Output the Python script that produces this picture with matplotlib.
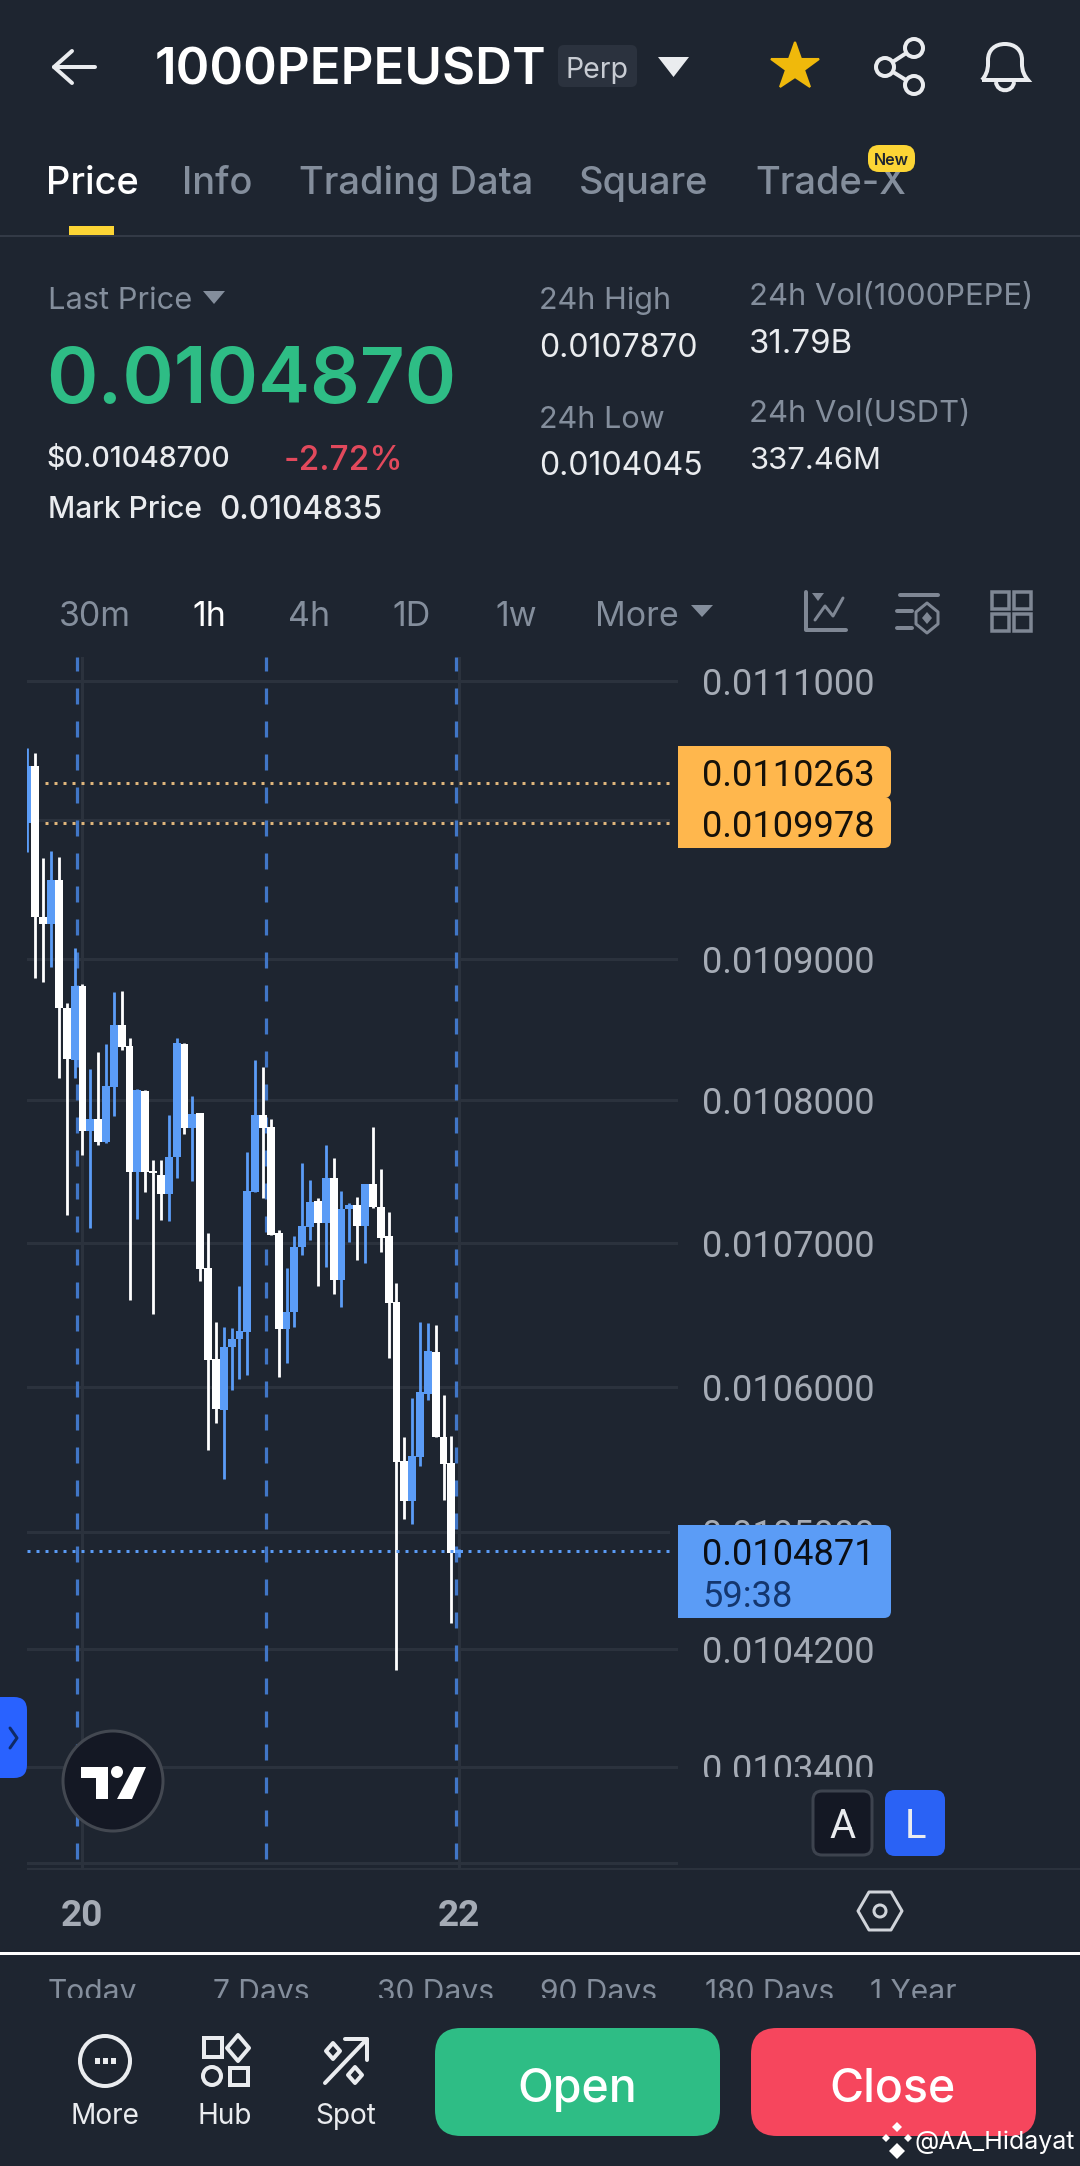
import matplotlib
matplotlib.use('Agg')
import matplotlib.pyplot as plt
from matplotlib.patches import Circle, FancyBboxPatch, PathPatch, Polygon, Rectangle
from matplotlib.path import Path
from matplotlib.ticker import NullFormatter, NullLocator

plt.rcParams['font.family'] = ['Inter', 'DejaVu Sans']

# candles, oldest first
opens = [0.0109976, 0.0110387, 0.0109303, 0.0109253, 0.0109568, 0.0108656, 0.0108287, 0.0108811,
         0.0107786, 0.0107870, 0.0107709, 0.0108096, 0.0108535, 0.0108386, 0.0107498, 0.0108067,
         0.0107505, 0.0107477, 0.0107343, 0.0107603, 0.0108400, 0.0107807, 0.0107912, 0.0106825,
         0.0106192, 0.0105839, 0.0106276, 0.0106331, 0.0106380, 0.0107358, 0.0107898, 0.0107814,
         0.0107070, 0.0106401, 0.0106519, 0.0106971, 0.0107112, 0.0107294, 0.0107140, 0.0107456,
         0.0106742, 0.0107238, 0.0107266, 0.0107119, 0.0107414, 0.0107252, 0.0107049, 0.0106589,
         0.0105488, 0.0105212, 0.0105515, 0.0105949, 0.0106241, 0.0105653, 0.0105474, 0.0104855]
closes = [0.0110387, 0.0109303, 0.0109253, 0.0109568, 0.0108656, 0.0108294, 0.0108811, 0.0107786,
          0.0107870, 0.0107709, 0.0108103, 0.0108535, 0.0108379, 0.0107498, 0.0108074, 0.0107498,
          0.0107491, 0.0107343, 0.0107603, 0.0108408, 0.0107807, 0.0107905, 0.0106818, 0.0106185,
          0.0105846, 0.0106276, 0.0106331, 0.0106387, 0.0107365, 0.0107898, 0.0107807, 0.0107056,
          0.0106401, 0.0106519, 0.0106971, 0.0107119, 0.0107287, 0.0107140, 0.0107456, 0.0106742,
          0.0107238, 0.0107266, 0.0107119, 0.0107414, 0.0107252, 0.0107034, 0.0106582, 0.0105481,
          0.0105212, 0.0105522, 0.0105963, 0.0106248, 0.0105653, 0.0105467, 0.0104855, 0.0104876]
highs = [0.0110517, 0.0110481, 0.0109725, 0.0109775, 0.0109732, 0.0108691, 0.0109082, 0.0108826,
         0.0108223, 0.0108344, 0.0108400, 0.0108769, 0.0108776, 0.0108443, 0.0108082, 0.0108074,
         0.0107582, 0.0107582, 0.0107898, 0.0108443, 0.0108408, 0.0108032, 0.0107912, 0.0107070,
         0.0106450, 0.0106415, 0.0106408, 0.0106700, 0.0107638, 0.0108287, 0.0108237, 0.0107870,
         0.0107091, 0.0106825, 0.0107049, 0.0107561, 0.0107442, 0.0107315, 0.0107688, 0.0107596,
         0.0107365, 0.0107280, 0.0107322, 0.0107414, 0.0107814, 0.0107519, 0.0107217, 0.0106721,
         0.0105653, 0.0105921, 0.0106450, 0.0106443, 0.0106429, 0.0105942, 0.0105660, 0.0104883]
lows = [0.0109768, 0.0108868, 0.0108840, 0.0108946, 0.0108159, 0.0107196, 0.0108159, 0.0107617,
        0.0107105, 0.0107688, 0.0107702, 0.0107891, 0.0108358, 0.0106603, 0.0107168, 0.0107358,
        0.0106505, 0.0107161, 0.0107154, 0.0107456, 0.0107765, 0.0107435, 0.0106735, 0.0105563,
        0.0105749, 0.0105364, 0.0105977, 0.0106053, 0.0106081, 0.0107358, 0.0107315, 0.0107056,
        0.0106067, 0.0106164, 0.0106415, 0.0106916, 0.0107020, 0.0106700, 0.0106832, 0.0106644,
        0.0106554, 0.0107006, 0.0106881, 0.0106860, 0.0107245, 0.0106937, 0.0106199, 0.0104057,
        0.0105088, 0.0105054, 0.0105453, 0.0105908, 0.0105653, 0.0105219, 0.0104377, 0.0104828]

price_ticks = [0.0111, 0.0110, 0.0109, 0.0108, 0.0107, 0.0106, 0.0105, 0.0104200, 0.0103400, 0.0102753]
price_labels = ['0.0111000', '0.0110000', '0.0109000', '0.0108000', '0.0107000', '0.0106000',
                '0.0105000', '0.0104200', '0.0103400', '']
level_prices = [0.0110263, 0.0109978]
level_labels = ['0.0110263', '0.0109978']
last_price = 0.0104871
countdown = '59:38'
session_lines = [6.34, 30.42, 54.55]
day_lines = [7, 55]
day_labels = ['20', '22']

tabs = ['Price', 'Info', 'Trading Data', 'Square', 'Trade-X']
tabs_x = [46, 182, 299, 579, 755]
intervals = ['30m', '1h', '4h', '1D', '1w', 'More']
intervals_x = [95, 209, 309, 412, 516, 637]
ranges = ['Today', '7 Days', '30 Days', '90 Days', '180 Days', '1 Year']
ranges_x = [48, 213, 377, 540, 705, 870]

BG = '#1e2530'
GRID = '#2b323d'
GREY = '#848e9c'
AXIS_GREY = '#a5abb5'
LIGHT = '#eaecef'
BLUE = '#5b9cf6'
ORANGE = '#ffb74d'
PX = 0.72  # points per pixel at dpi 100
ROBOTO = ['Roboto', 'DejaVu Sans']

fig = plt.figure(figsize=(10.8, 21.66), dpi=100, facecolor=BG)

# price pane
ax = fig.add_axes([26.7 / 1080, (2166 - 1869) / 2166, (678 - 26.7) / 1080, (1869 - 657) / 2166])
ax.set_facecolor('none')
ax.set_yscale('log')
ax.set_xlim(-0.10, 82.87)
ax.set_ylim(0.0102713, 0.0111174)
for s in ax.spines.values():
    s.set_visible(False)
ax.set_xticks([])
ax.set_yticks(price_ticks, labels=price_labels)
ax.yaxis.set_minor_locator(NullLocator())
ax.yaxis.set_minor_formatter(NullFormatter())
ax.yaxis.tick_right()
ax.tick_params(axis='y', length=0, pad=24 * PX, labelsize=36.2 * PX, labelcolor=AXIS_GREY)
for t in ax.get_yticklabels():
    t.set_family(ROBOTO)
ax.grid(axis='y', color=GRID, lw=3 * PX, zorder=0)
ax.set_axisbelow(True)

for d in day_lines:
    ax.axvline(d, color=GRID, lw=3 * PX, zorder=1)
for s in session_lines:
    ax.axvline(s, color='#4176c6', lw=3.2 * PX, ls=(23 / 3.2, (16 / 3.2, 17 / 3.2)), zorder=1.5)

for i in range(len(opens)):
    col = BLUE if closes[i] >= opens[i] else 'white'
    z = 3 + i * 0.01
    ax.vlines(i, lows[i], highs[i], color=col, lw=2.8 * PX, zorder=z)
    bottom = min(opens[i], closes[i])
    ax.bar(i, abs(closes[i] - opens[i]), bottom=bottom, width=1.0, color=col, lw=0, zorder=z)

for p in level_prices:
    ax.hlines(p, 2.2, 82.87, color='#e0b67c', lw=3 * PX, ls=(0, (1, 2)), zorder=4)
ax.axhline(last_price, color=BLUE, lw=3 * PX, ls=(0, (1, 2)), zorder=4)

# app chrome, in pixel coordinates
ui = fig.add_axes([0, 0, 1, 1])
ui.set_facecolor('none')
ui.set_xlim(0, 1080)
ui.set_ylim(2166, 0)
ui.axis('off')


def label(x, y, s, size, color=LIGHT, weight='normal', ha='left', family=None, z=6):
    return ui.text(x, y, s, fontsize=size * PX, color=color, fontweight=weight, ha=ha, va='center_baseline',
                   family=family or ['Inter', 'DejaVu Sans'], zorder=z)


def rbox(x0, y0, x1, y1, r, face, edge='none', lw=0, z=5):
    ui.add_patch(FancyBboxPatch((x0 + r, y0 + r), x1 - x0 - 2 * r, y1 - y0 - 2 * r, boxstyle='round,pad=%f,rounding_size=%f' % (r, r),
                                fc=face, ec=edge, lw=lw * PX, zorder=z))


def stroke(xs, ys, color=LIGHT, lw=4, z=6):
    ui.plot(xs, ys, color=color, lw=lw * PX, solid_capstyle='round', solid_joinstyle='round', zorder=z)


def poly(points, color, z=6):
    ui.add_patch(Polygon(points, closed=True, fc=color, ec='none', zorder=z))


def ring(x, y, r, color=LIGHT, lw=4, face='none', z=6):
    ui.add_patch(Circle((x, y), r, fc=face, ec=color, lw=lw * PX, zorder=z))


def outline(points, color, lw=3, z=6):
    ui.add_patch(Polygon(points, closed=True, fc='none', ec=color, lw=lw * PX, joinstyle='round', zorder=z))


# header
stroke([95, 54, 72], [67, 67, 51])
stroke([54, 72], [67, 83])
label(155, 66, '1000PEPEUSDT', 51, 'white', 'semibold')
rbox(558, 45, 637, 87, 6, '#2b323e')
label(597.5, 68, 'Perp', 28.5, '#c8ccd3', ha='center')
poly([(658, 57), (689, 57), (673.5, 77)], LIGHT)
ui.plot([795], [67], marker='*', ms=50 * PX, color='#f0b90b', mew=1.5, mec='#f0b90b', zorder=6)
stroke([914, 885, 914], [48, 67, 85])
for cx, cy in [(914, 48), (885, 67), (914, 85)]:
    ring(cx, cy, 9, face=BG)
bell = Path([(982, 80), (989, 72), (988, 64), (988, 60), (988, 50), (995, 44), (1005, 44), (1015, 44), (1022, 50), (1022, 60),
             (1022, 64), (1021, 72), (1028, 80), (982, 80)],
            [Path.MOVETO] + [Path.CURVE4] * 12 + [Path.LINETO])
ui.add_patch(PathPatch(bell, fc='none', ec=LIGHT, lw=4 * PX, zorder=6))
clapper = Path([(996, 82), (997, 93), (1013, 93), (1014, 82)], [Path.MOVETO, Path.CURVE4, Path.CURVE4, Path.CURVE4])
ui.add_patch(PathPatch(clapper, fc='none', ec=LIGHT, lw=4 * PX, zorder=6))

# tabs
for i, (name, x) in enumerate(zip(tabs, tabs_x)):
    label(x, 180, name, 38, 'white' if i == 0 else GREY, 'medium')
ui.add_patch(Rectangle((69, 226), 45, 9, fc='#fcd535', ec='none', zorder=6))
ui.add_patch(Rectangle((0, 235), 1080, 2, fc='#333a46', ec='none', zorder=5))
rbox(868, 145, 915, 172, 11, '#fcd535', z=7)
label(891.5, 159, 'New', 16, '#1e2530', 'semibold', ha='center', z=8)

# ticker block
label(48, 298, 'Last Price', 30.8, GREY)
poly([(203, 291), (225, 291), (214, 304)], GREY)
label(46, 375, '0.0104870', 78, '#2ebd85', 'semibold')
label(47, 457, '$0.01048700', 28.5, LIGHT, 'medium')
label(284, 457, '-2.72%', 33.5, '#e2495c', 'medium')
label(48, 507, 'Mark Price', 30, LIGHT, 'medium')
label(219, 507, '0.0104835', 31.5, LIGHT, 'medium')
label(539, 298, '24h High', 30.6, GREY)
label(539, 345, '0.0107870', 32, LIGHT)
label(539, 417, '24h Low', 30.6, GREY)
label(539, 463, '0.0104045', 32, LIGHT)
label(749, 294, '24h Vol(1000PEPE)', 31, GREY)
label(749, 341, '31.79B', 33, LIGHT)
label(749, 411, '24h Vol(USDT)', 31, GREY)
label(749, 458, '337.46M', 31, LIGHT)

# interval row
for name, x in zip(intervals, intervals_x):
    label(x, 613, name, 34, 'white' if name == '1h' else GREY, ha='center')
poly([(691, 605), (713, 605), (702, 617)], GREY)
ICON = '#7f8794'
stroke([806, 806, 846], [592, 630, 630], ICON)
stroke([815, 825, 833, 843], [620, 606, 616, 598], ICON, 3)
poly([(812, 593), (824, 593), (818, 601)], ICON)
stroke([900, 938], [595, 595], ICON)
stroke([897, 912], [611, 611], ICON)
stroke([897, 912], [628, 628], ICON)
outline([(927, 603), (938, 612), (938, 624), (927, 633), (916, 624), (916, 612)], ICON, 3)
poly([(927, 612), (932, 618), (927, 624), (922, 618)], ICON)
for gx in (992, 1014):
    for gy in (592, 614):
        ui.add_patch(Rectangle((gx, gy), 17, 17, fc='none', ec=ICON, lw=3.5 * PX, zorder=6))

# price tags on the axis
rbox(670, 746, 891, 798, 7, ORANGE)
rbox(670, 797, 891, 848, 7, ORANGE)
ui.add_patch(Rectangle((670, 740), 8, 115, fc=BG, ec='none', zorder=5.5))
for name, y in zip(level_labels, [772, 823]):
    label(702, y, name, 36.2, '#15110a', family=ROBOTO)
rbox(670, 1525, 891, 1618, 7, BLUE)
ui.add_patch(Rectangle((670, 1520), 8, 100, fc=BG, ec='none', zorder=5.5))
label(702, 1551, '%.7f' % last_price, 36.2, '#0b0e14', family=ROBOTO)
label(702, 1593, countdown, 36.2, '#14366e', family=ROBOTO)
# bottom of the last price label is cut by the pane
ui.add_patch(Rectangle((692, 1777), 220, 13, fc=BG, ec='none', zorder=4))

rbox(813, 1791, 872, 1855, 9, '#141824', '#3d434e', 3)
label(842.5, 1823, 'A', 40, LIGHT, ha='center', family=ROBOTO)
rbox(885, 1790, 945, 1856, 10, '#2a62f5')
label(915, 1823, 'L', 40, LIGHT, ha='center', family=ROBOTO)

# side handle and TradingView badge
rbox(-14, 1697, 27, 1778, 13, '#2962ff')
stroke([10, 17, 10], [1728, 1738, 1748], '#0f2a66', 3)
ring(113, 1781, 50, '#434851', 3, '#141824')
poly([(81, 1767), (108, 1767), (108, 1799), (96, 1799), (96, 1778), (81, 1778)], 'white', 7)
poly([(134, 1767), (146, 1767), (132, 1799), (117, 1799)], 'white', 7)
ui.add_patch(Circle((117, 1772), 6, fc='white', ec='none', zorder=7))

# time axis
ui.add_patch(Rectangle((27, 1868), 1053, 2, fc=GRID, ec='none', zorder=4))
for name, d in zip(day_labels, day_lines):
    px = ax.transData.transform((d, 0.0105))[0]
    label(px, 1912, name, 37, AXIS_GREY, 'semibold', ha='center', family=ROBOTO)
outline([(858, 1911), (869, 1892), (891, 1892), (902, 1911), (891, 1930), (869, 1930)], '#d0d4da', 3)
ring(880, 1911, 6, '#d0d4da', 3)

ui.add_patch(Rectangle((0, 1952), 1080, 3, fc='white', ec='none', zorder=5))
for name, x in zip(ranges, ranges_x):
    label(x, 1990, name, 30, GREY, z=4)
ui.add_patch(Rectangle((0, 1998), 1080, 168, fc=BG, ec='none', zorder=4.5))

# bottom bar
ring(105, 2061, 25)
for dx in (-8, 0, 8):
    ui.add_patch(Rectangle((105 + dx - 2.5, 2058), 5, 6, fc=LIGHT, ec='none', zorder=6))
ui.add_patch(Rectangle((204, 2038), 18, 19, fc='none', ec=LIGHT, lw=4 * PX, zorder=6))
outline([(238, 2035), (249, 2048), (238, 2061), (227, 2048)], LIGHT, 4)
ring(212, 2076, 9)
ui.add_patch(Rectangle((230, 2068), 18, 17, fc='none', ec=LIGHT, lw=4 * PX, zorder=6))
stroke([325, 367], [2083, 2039])
stroke([345, 367, 367], [2039, 2039, 2060])
outline([(333, 2043), (340, 2051), (333, 2059), (326, 2051)], LIGHT, 4)
outline([(355, 2067), (362, 2075), (355, 2083), (348, 2075)], LIGHT, 4)
for name, x in [('More', 105), ('Hub', 225), ('Spot', 346)]:
    label(x, 2114, name, 28, LIGHT, ha='center')

rbox(435, 2028, 720, 2136, 26, '#2ebd85')
label(577, 2085, 'Open', 46.5, 'white', 'medium', ha='center')
rbox(751, 2028, 1036, 2136, 26, '#f6465d')
label(892, 2085, 'Close', 46.5, 'white', 'medium', ha='center')

# watermark
for dx, dy, hw in [(0, -13, 5), (-11, -2, 4), (11, -2, 4), (0, 11, 8)]:
    poly([(897 + dx, 2140 + dy - hw), (897 + dx + hw, 2140 + dy), (897 + dx, 2140 + dy + hw), (897 + dx - hw, 2140 + dy)], 'white', 8)
label(915, 2140, '@AA_Hidayat', 25, 'white', z=8)

fig.savefig('out.png', dpi=100, facecolor=BG)
